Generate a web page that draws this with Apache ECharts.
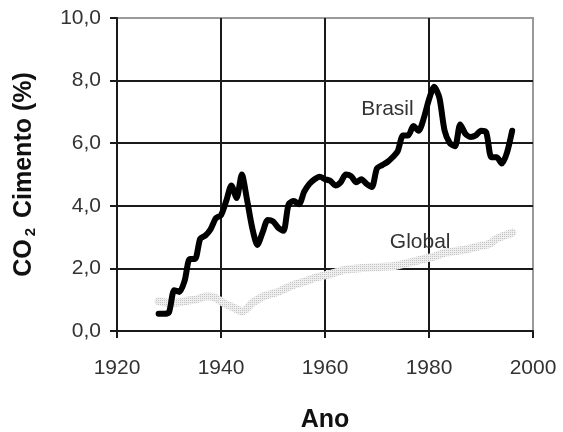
<!DOCTYPE html>
<html>
<head>
<meta charset="utf-8">
<script src="https://cdn.jsdelivr.net/npm/echarts@6/dist/echarts.min.js"></script>
<style>
  html, body { margin: 0; padding: 0; background: #fff; }
  #chart { width: 563px; height: 432px; }
</style>
</head>
<body>
<div id="chart"></div>
<script>
// Anos (eixo X)
const years = [
  1928, 1929, 1930, 1931, 1932, 1933, 1934, 1935, 1936, 1937,
  1938, 1939, 1940, 1941, 1942, 1943, 1944, 1945, 1946, 1947,
  1948, 1949, 1950, 1951, 1952, 1953, 1954, 1955, 1956, 1957,
  1958, 1959, 1960, 1961, 1962, 1963, 1964, 1965, 1966, 1967,
  1968, 1969, 1970, 1971, 1972, 1973, 1974, 1975, 1976, 1977,
  1978, 1979, 1980, 1981, 1982, 1983, 1984, 1985, 1986, 1987,
  1988, 1989, 1990, 1991, 1992, 1993, 1994, 1995, 1996
];

// CO2 do cimento, Brasil (%)
const brasil = [
  0.55, 0.55, 0.6, 1.3, 1.25, 1.6, 2.3, 2.3, 2.95, 3.05,
  3.25, 3.6, 3.7, 4.15, 4.65, 4.25, 5.0, 4.2, 3.3, 2.75,
  3.15, 3.55, 3.5, 3.3, 3.2, 4.05, 4.15, 4.05, 4.45, 4.7,
  4.85, 4.93, 4.85, 4.8, 4.65, 4.75, 5.0, 4.95, 4.75, 4.85,
  4.7, 4.6, 5.2, 5.3, 5.4, 5.55, 5.75, 6.25, 6.25, 6.55,
  6.4, 6.8, 7.4, 7.8, 7.45, 6.4, 6.0, 5.9, 6.6, 6.3,
  6.2, 6.25, 6.4, 6.35, 5.55, 5.55, 5.35, 5.7, 6.4
];

// CO2 do cimento, Global (%)
const global = [
  0.95, 0.92, 0.9, 0.9, 0.92, 0.95, 0.98, 1.0, 1.05, 1.1,
  1.1, 1.05, 0.95, 0.85, 0.78, 0.7, 0.62, 0.72, 0.9, 1.0,
  1.1, 1.15, 1.2, 1.25, 1.33, 1.4, 1.48, 1.52, 1.58, 1.63,
  1.7, 1.74, 1.78, 1.82, 1.87, 1.92, 1.96, 1.98, 2.0, 2.01,
  2.02, 2.03, 2.04, 2.05, 2.06, 2.07, 2.1, 2.14, 2.18, 2.22,
  2.26, 2.3, 2.34, 2.38, 2.44, 2.5, 2.52, 2.55, 2.58, 2.6,
  2.64, 2.68, 2.72, 2.75, 2.82, 2.95, 3.02, 3.08, 3.14
];

// posição dos rótulos das séries [ano, valor]
const brasilLabelAt = [1972, 7.1];
const globalLabelAt = [1978.3, 2.85];

const FONT = "'Liberation Sans', Arial, sans-serif";

function zip(xs, ys) {
  return xs.map((x, i) => [x, ys[i]]);
}

// textura pontilhada da série Global
function dotPattern() {
  const c = document.createElement("canvas");
  c.width = 2;
  c.height = 2;
  const ctx = c.getContext("2d");
  ctx.fillStyle = "#eeeeee";
  ctx.fillRect(0, 0, 2, 2);
  ctx.fillStyle = "#c4c4c4";
  ctx.fillRect(0, 0, 1, 1);
  return { image: c, repeat: "repeat" };
}

const chart = echarts.init(document.getElementById("chart"));

const axisBlack = { color: "#1a1a1a", width: 2 };

chart.setOption({
  animation: false,
  textStyle: { fontFamily: FONT },
  grid: {
    left: 117, right: 30, top: 18, bottom: 101,
    outerBoundsMode: "none",
    show: true, borderColor: "#9a9a9a", borderWidth: 2,
  },
  xAxis: {
    type: "value",
    min: 1920, max: 2000, interval: 20,
    name: "Ano",
    nameLocation: "middle",
    nameGap: 77,
    nameTextStyle: { fontSize: 25, fontWeight: "bold", color: "#111", fontFamily: FONT },
    axisLine: { show: true, lineStyle: axisBlack },
    axisTick: { show: true, length: 7, lineStyle: axisBlack },
    axisLabel: {
      fontSize: 21, color: "#333", margin: 27, fontFamily: FONT,
      formatter: (v) => String(v),
    },
    splitLine: { show: true, showMinLine: false, showMaxLine: false, lineStyle: axisBlack },
  },
  yAxis: {
    type: "value",
    min: 0, max: 10, interval: 2,
    name: "{a|CO}{s|2}{a| Cimento (%)}",
    nameLocation: "middle",
    nameRotate: 90,
    nameGap: 79,
    nameTextStyle: {
      rich: {
        a: { fontSize: 25, fontWeight: "bold", color: "#111", fontFamily: FONT },
        s: { fontSize: 15, fontWeight: "bold", color: "#111", fontFamily: FONT, padding: [12, 3, 0, 3] },
      },
    },
    axisLine: { show: true, lineStyle: axisBlack },
    axisTick: { show: true, length: 7, lineStyle: axisBlack },
    axisLabel: {
      fontSize: 21, color: "#333", margin: 16, fontFamily: FONT,
      formatter: (v) => v.toFixed(1).replace(".", ","),
    },
    splitLine: { show: true, showMinLine: false, showMaxLine: false, lineStyle: axisBlack },
  },
  series: [
    {
      name: "Global",
      type: "line",
      data: zip(years, global),
      showSymbol: false,
      smooth: 0.2,
      lineStyle: { color: dotPattern(), width: 8, cap: "round", join: "round" },
      markPoint: {
        symbol: "circle", symbolSize: 0,
        data: [{ coord: globalLabelAt, value: "Global" }],
        label: { show: true, formatter: "Global", color: "#333", fontSize: 21, fontFamily: FONT },
      },
      z: 3,
    },
    {
      name: "Brasil",
      type: "line",
      data: zip(years, brasil),
      showSymbol: false,
      smooth: 0.25,
      lineStyle: { color: "#000", width: 6, cap: "round", join: "round" },
      markPoint: {
        symbol: "circle", symbolSize: 0,
        data: [{ coord: brasilLabelAt, value: "Brasil" }],
        label: { show: true, formatter: "Brasil", color: "#333", fontSize: 21, fontFamily: FONT },
      },
      z: 4,
    },
  ],
});
</script>
</body>
</html>
